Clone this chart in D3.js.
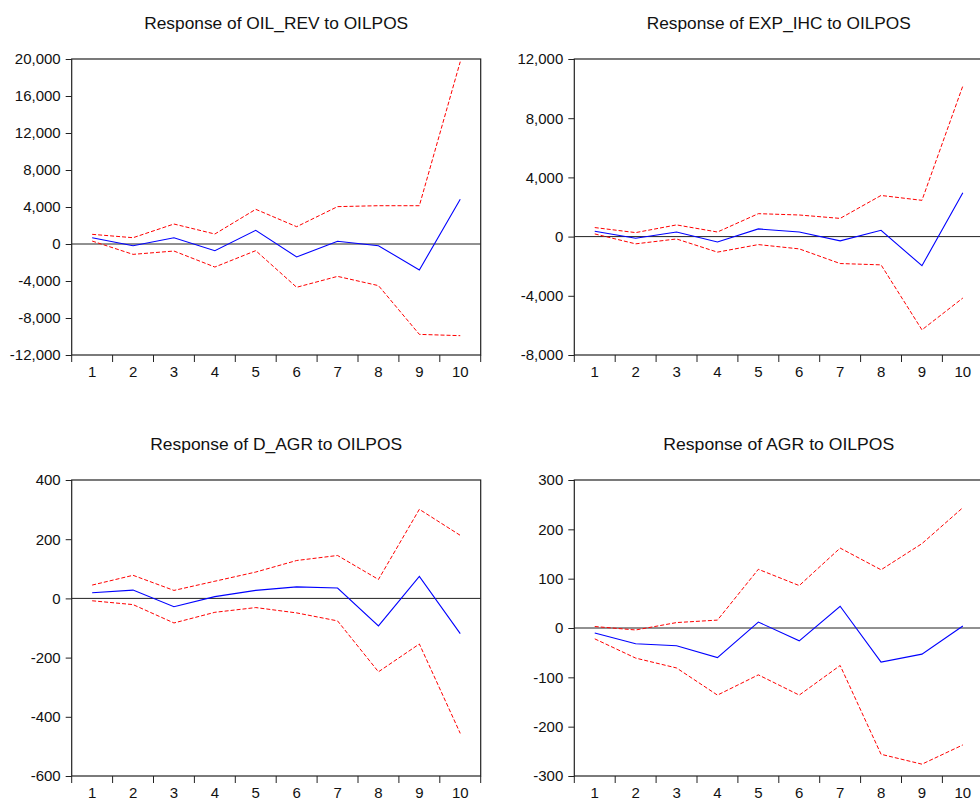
<!DOCTYPE html>
<html>
<head>
<meta charset="utf-8">
<script src="https://cdn.jsdelivr.net/npm/d3@7/dist/d3.min.js"></script>
<style>
  html, body { margin: 0; padding: 0; background: #ffffff; }
  svg { display: block; }
  text { font-family: "Liberation Sans", Arial, sans-serif; fill: #111; }
</style>
</head>
<body>
<svg id="chart" width="980" height="804"></svg>
<script>
// Forecast horizon (periods)
const periods = [1, 2, 3, 4, 5, 6, 7, 8, 9, 10];

// Response of OIL_REV to OILPOS
const oilRevResp  = [680, -180, 680, -720, 1480, -1400, 290, -180, -2810, 4830];
const oilRevUpper = [1045, 680, 2160, 1080, 3750, 1870, 4040, 4140, 4140, 19710];
const oilRevLower = [320, -1120, -760, -2490, -720, -4680, -3500, -4500, -9770, -9910];
const oilRevTicks = [-12000, -8000, -4000, 0, 4000, 8000, 12000, 16000, 20000];

// Response of EXP_IHC to OILPOS
const expIhcResp  = [360, -110, 310, -360, 520, 310, -290, 430, -1970, 2960];
const expIhcUpper = [610, 270, 790, 310, 1550, 1460, 1230, 2780, 2450, 10180];
const expIhcLower = [180, -490, -160, -1050, -540, -830, -1820, -1910, -6300, -4150];
const expIhcTicks = [-8000, -4000, 0, 4000, 8000, 12000];

// Response of D_AGR to OILPOS
const dAgrResp  = [19, 28, -28, 6, 27, 39, 35, -93, 74, -119];
const dAgrUpper = [45, 78, 27, 58, 89, 128, 145, 64, 301, 213];
const dAgrLower = [-8, -21, -83, -47, -31, -49, -76, -248, -154, -456];
const dAgrTicks = [-600, -400, -200, 0, 200, 400];

// Response of AGR to OILPOS
const agrResp  = [-10, -32, -36, -60, 12, -26, 44, -69, -53, 4];
const agrUpper = [3, -4, 11, 16, 119, 86, 162, 118, 171, 244];
const agrLower = [-22, -61, -81, -136, -95, -136, -76, -256, -276, -237];
const agrTicks = [-300, -200, -100, 0, 100, 200, 300];

const svg = d3.select("#chart");
const fmt = d => d3.format(",")(d).replace("\u2212", "-");

function drawPanel(cfg) {
  const g = svg.append("g");
  const plotW = 409, plotH = 296;
  const x = d3.scaleBand().domain(periods).range([cfg.left, cfg.left + plotW]).padding(0);
  const y = d3.scaleLinear().domain(d3.extent(cfg.ticks)).range([cfg.top + plotH, cfg.top]);
  const cx = p => x(p) + x.bandwidth() / 2;

  // Title
  g.append("text")
    .attr("x", cfg.left + plotW / 2)
    .attr("y", cfg.top - 30)
    .attr("text-anchor", "middle")
    .attr("font-size", 17)
    .attr("textLength", cfg.titleLen)
    .attr("lengthAdjust", "spacingAndGlyphs")
    .text(cfg.title);

  // Y axis
  const yAxis = g.append("g")
    .attr("transform", `translate(${cfg.left},0)`)
    .call(d3.axisLeft(y).tickValues(cfg.ticks).tickFormat(fmt).tickSizeInner(6).tickSizeOuter(0).tickPadding(5));
  yAxis.select(".domain").remove();
  yAxis.selectAll("line").attr("stroke", "#222");
  yAxis.selectAll("text").attr("font-size", 15).attr("fill", "#111")
    .attr("font-family", "Liberation Sans, Arial, sans-serif");

  // X axis labels at period centres
  const xAxis = g.append("g")
    .attr("transform", `translate(0,${cfg.top + plotH})`)
    .call(d3.axisBottom(x).tickSize(0).tickPadding(11));
  xAxis.select(".domain").remove();
  xAxis.selectAll("text").attr("font-size", 15).attr("fill", "#111")
    .attr("font-family", "Liberation Sans, Arial, sans-serif");

  // X tick marks at period boundaries
  const bounds = periods.map(p => x(p)).concat([cfg.left + plotW]);
  g.append("g").selectAll("line").data(bounds).join("line")
    .attr("x1", d => d).attr("x2", d => d)
    .attr("y1", cfg.top + plotH).attr("y2", cfg.top + plotH + 7)
    .attr("stroke", "#222").attr("stroke-width", 1);

  // Zero line
  g.append("line")
    .attr("x1", cfg.left).attr("x2", cfg.left + plotW)
    .attr("y1", y(0)).attr("y2", y(0))
    .attr("stroke", "#222").attr("stroke-width", 1);

  const line = d3.line().x((d, i) => cx(periods[i])).y(d => y(d));

  // Confidence bands
  [cfg.upper, cfg.lower].forEach(arr => {
    g.append("path").datum(arr)
      .attr("d", line)
      .attr("fill", "none")
      .attr("stroke", "#ff0000")
      .attr("stroke-width", 1)
      .attr("stroke-dasharray", "4,2");
  });

  // Impulse response
  g.append("path").datum(cfg.resp)
    .attr("d", line)
    .attr("fill", "none")
    .attr("stroke", "#0000ff")
    .attr("stroke-width", 1.1);

  // Frame
  g.append("rect")
    .attr("x", cfg.left).attr("y", cfg.top)
    .attr("width", plotW).attr("height", plotH)
    .attr("fill", "none").attr("stroke", "#222").attr("stroke-width", 1.2);
}

drawPanel({ left: 71.7, top: 59, title: "Response of OIL_REV to OILPOS", titleLen: 264,
  resp: oilRevResp, upper: oilRevUpper, lower: oilRevLower, ticks: oilRevTicks });
drawPanel({ left: 574.3, top: 59, title: "Response of EXP_IHC to OILPOS", titleLen: 264,
  resp: expIhcResp, upper: expIhcUpper, lower: expIhcLower, ticks: expIhcTicks });
drawPanel({ left: 71.7, top: 480, title: "Response of D_AGR to OILPOS", titleLen: 252,
  resp: dAgrResp, upper: dAgrUpper, lower: dAgrLower, ticks: dAgrTicks });
drawPanel({ left: 574.3, top: 480, title: "Response of AGR to OILPOS", titleLen: 231,
  resp: agrResp, upper: agrUpper, lower: agrLower, ticks: agrTicks });
</script>
</body>
</html>
